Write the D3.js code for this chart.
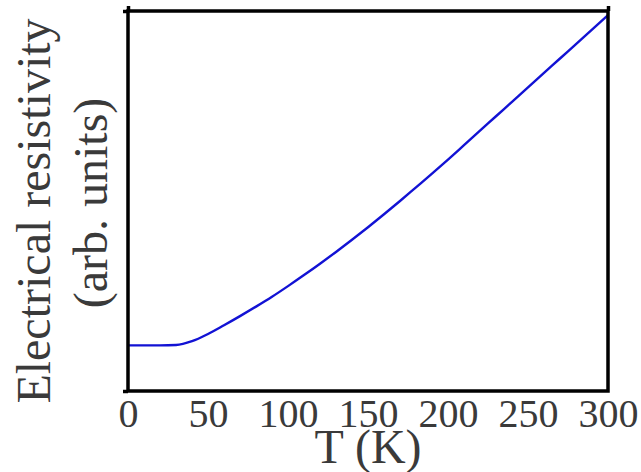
<!DOCTYPE html>
<html>
<head>
<meta charset="utf-8">
<script src="https://cdn.jsdelivr.net/npm/d3@7"></script>
<style>
    body { margin: 0; background: #fff; }
    svg { display: block; }
    .label { font-family: "Liberation Serif", "DejaVu Serif", serif; fill: #3a3a3a; }
</style>
</head>
<body>
<svg id="plot" width="641" height="472"></svg>
<script>
// Temperature (K) and resistivity (arb. units)
const temps = [0, 10, 20, 30, 40, 50, 60, 70, 80, 90, 100, 110, 120, 130, 140, 150,
    160, 170, 180, 190, 200, 210, 220, 230, 240, 250, 260, 270, 280, 290, 300];
const rho = [0.120, 0.120, 0.120, 0.121, 0.131, 0.150, 0.173, 0.197, 0.222, 0.248, 0.276,
    0.305, 0.335, 0.366, 0.398, 0.431, 0.465, 0.500, 0.536, 0.572, 0.609, 0.647, 0.685,
    0.723, 0.761, 0.799, 0.837, 0.875, 0.913, 0.951, 0.989];
const xTicks = [0, 50, 100, 150, 200, 250, 300];
const xLabel = "T (K)";
const yLabelLines = ["Electrical resistivity", "(arb. units)"];

const data = temps.map((t, i) => ({t: t, r: rho[i]}));

const svg = d3.select("#plot");
const margin = {top: 11, right: 33, bottom: 81, left: 128};
const innerWidth = +svg.attr("width") - margin.left - margin.right;
const innerHeight = +svg.attr("height") - margin.top - margin.bottom;

const g = svg.append("g")
    .attr("transform", `translate(${margin.left}, ${margin.top})`);

const xScale = d3.scaleLinear().domain([0, 300]).range([0, innerWidth]);
const yScale = d3.scaleLinear().domain([0, 1]).range([innerHeight, 0]);

// Curve
const line = d3.line()
    .x(d => xScale(d.t))
    .y(d => yScale(d.r))
    .curve(d3.curveMonotoneX);

g.append("path")
    .datum(data)
    .attr("fill", "none")
    .attr("stroke", "#1212d4")
    .attr("stroke-width", 2.4)
    .attr("d", line);

// Frame
g.append("rect")
    .attr("width", innerWidth)
    .attr("height", innerHeight)
    .attr("fill", "none")
    .attr("stroke", "#000")
    .attr("stroke-width", 3.5);

// Corner ticks only
const leftAxis = g.append("g")
    .call(d3.axisLeft(yScale).tickValues([0, 1]).tickSize(5).tickFormat(""));
const topAxis = g.append("g")
    .call(d3.axisTop(xScale).tickValues([0, 300]).tickSize(5).tickFormat(""));
[leftAxis, topAxis].forEach(a => {
    a.select(".domain").remove();
    a.selectAll("line").attr("stroke", "#000").attr("stroke-width", 3.5);
});

// Bottom tick labels
const bottomAxis = g.append("g")
    .attr("transform", `translate(0, ${innerHeight})`)
    .call(d3.axisBottom(xScale).tickValues(xTicks).tickSize(0).tickFormat(d3.format("d")));
bottomAxis.select(".domain").remove();
bottomAxis.selectAll("text")
    .attr("class", "label")
    .attr("y", 36)
    .attr("dy", 0)
    .style("font-size", "40px");

// Axis labels
g.append("text")
    .attr("class", "label")
    .attr("x", innerWidth / 2)
    .attr("y", innerHeight + 72)
    .attr("text-anchor", "middle")
    .style("font-size", "48px")
    .text(xLabel);

const yLabel = svg.append("text")
    .attr("class", "label")
    .attr("text-anchor", "middle")
    .attr("transform", "rotate(-90)")
    .style("font-size", "48px");
yLabel.append("tspan").attr("x", -211).attr("y", 50).text(yLabelLines[0]);
yLabel.append("tspan").attr("x", -203).attr("y", 107).text(yLabelLines[1]);
</script>
</body>
</html>
